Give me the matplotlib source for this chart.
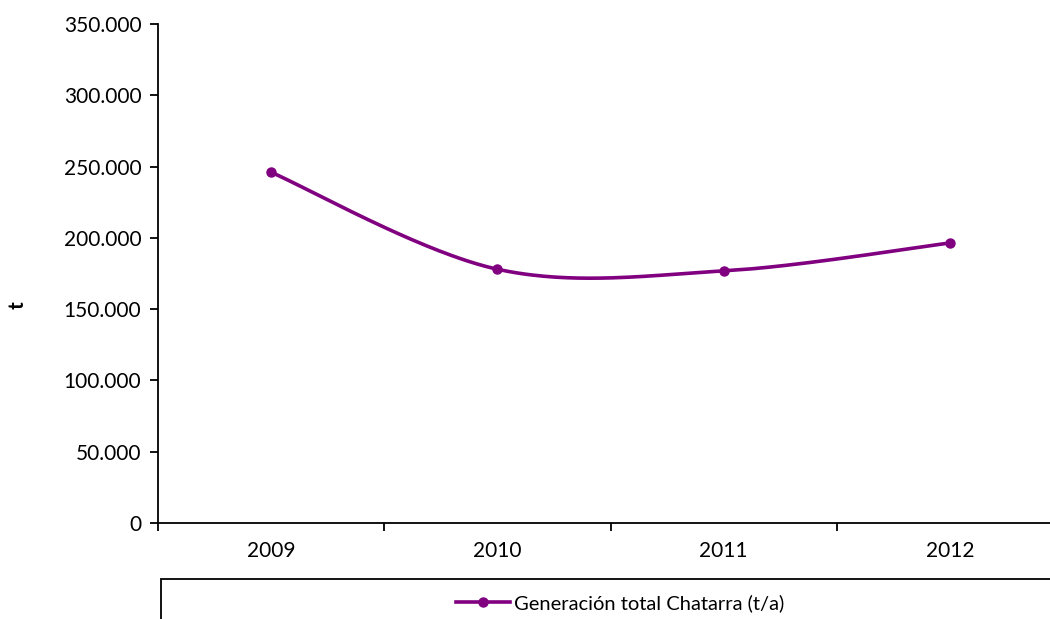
import matplotlib
matplotlib.use("Agg")
import matplotlib.pyplot as plt
import numpy as np
from matplotlib.lines import Line2D
from matplotlib.patches import Rectangle
from matplotlib.ticker import FuncFormatter

plt.rcParams['font.family'] = ['Lato', 'DejaVu Sans']

years = ['2009', '2010', '2011', '2012']
chatarra = [246000, 178000, 176800, 196400]
series_label = 'Generación total Chatarra (t/a)'
purple = '#800080'


def smooth_curve(xs, ys, n=60):
    """Bezier smoothing through every point, control points from neighbours."""
    xs = np.asarray(xs, float)
    ys = np.asarray(ys, float)
    px, py = [], []
    for i in range(len(xs) - 1):
        i0 = max(i - 1, 0)
        i3 = min(i + 2, len(xs) - 1)
        c1x = xs[i] + (xs[i + 1] - xs[i0]) / 6
        c1y = ys[i] + (ys[i + 1] - ys[i0]) / 6
        c2x = xs[i + 1] - (xs[i3] - xs[i]) / 6
        c2y = ys[i + 1] - (ys[i3] - ys[i]) / 6
        t = np.linspace(0, 1, n)
        a, b, c, d = (1 - t) ** 3, 3 * (1 - t) ** 2 * t, 3 * (1 - t) * t ** 2, t ** 3
        px.extend(a * xs[i] + b * c1x + c * c2x + d * xs[i + 1])
        py.extend(a * ys[i] + b * c1y + c * c2y + d * ys[i + 1])
    return px, py


fig = plt.figure(figsize=(10.5, 6.19), dpi=100)
ax = fig.add_axes([158 / 1050, 1 - 523 / 619, (1063 - 158) / 1050, (523 - 24) / 619])

x = np.arange(len(years))
sx, sy = smooth_curve(x, chatarra)
ax.plot(sx, sy, color=purple, lw=2.6, solid_capstyle='round')
ax.plot(x, chatarra, 'o', color=purple, ms=6.5)

ax.set_xlim(-0.5, len(years) - 0.5)
ax.set_ylim(0, 350000)
ax.set_yticks(np.arange(0, 350001, 50000))
ax.yaxis.set_major_formatter(FuncFormatter(lambda v, p: f'{int(v):,}'.replace(',', '.')))
ax.set_xticks(x)
ax.set_xticklabels(years)
ax.set_xticks(np.arange(-0.5, len(years), 1), minor=True)
ax.tick_params(axis='x', which='major', length=0, pad=13, labelsize=15)
ax.tick_params(axis='x', which='minor', length=6, width=1.3, direction='out')
ax.tick_params(axis='y', length=6, width=1.3, direction='out', labelsize=15, pad=6)
for side in ['top', 'right']:
    ax.spines[side].set_visible(False)
for side in ['left', 'bottom']:
    ax.spines[side].set_linewidth(1.3)

fig.text(18 / 1050, 1 - 305 / 619, 't', rotation=90, fontsize=15,
         fontweight='bold', ha='center', va='center')

# legend box below the axis
fig.patches.append(Rectangle((161 / 1050, -0.05), 0.9, 1 - 579 / 619 + 0.05,
                             transform=fig.transFigure, fill=False,
                             edgecolor='black', lw=1.3))
handle = Line2D([], [], color=purple, lw=2.6, marker='o', ms=6.5)
fig.legend(handles=[handle], labels=[series_label], frameon=False,
           loc='center', bbox_to_anchor=(620 / 1050, 1 - 603 / 619),
           fontsize=14.5, handlelength=2.7, handletextpad=0.2)

fig.savefig('out.png', dpi=100)
